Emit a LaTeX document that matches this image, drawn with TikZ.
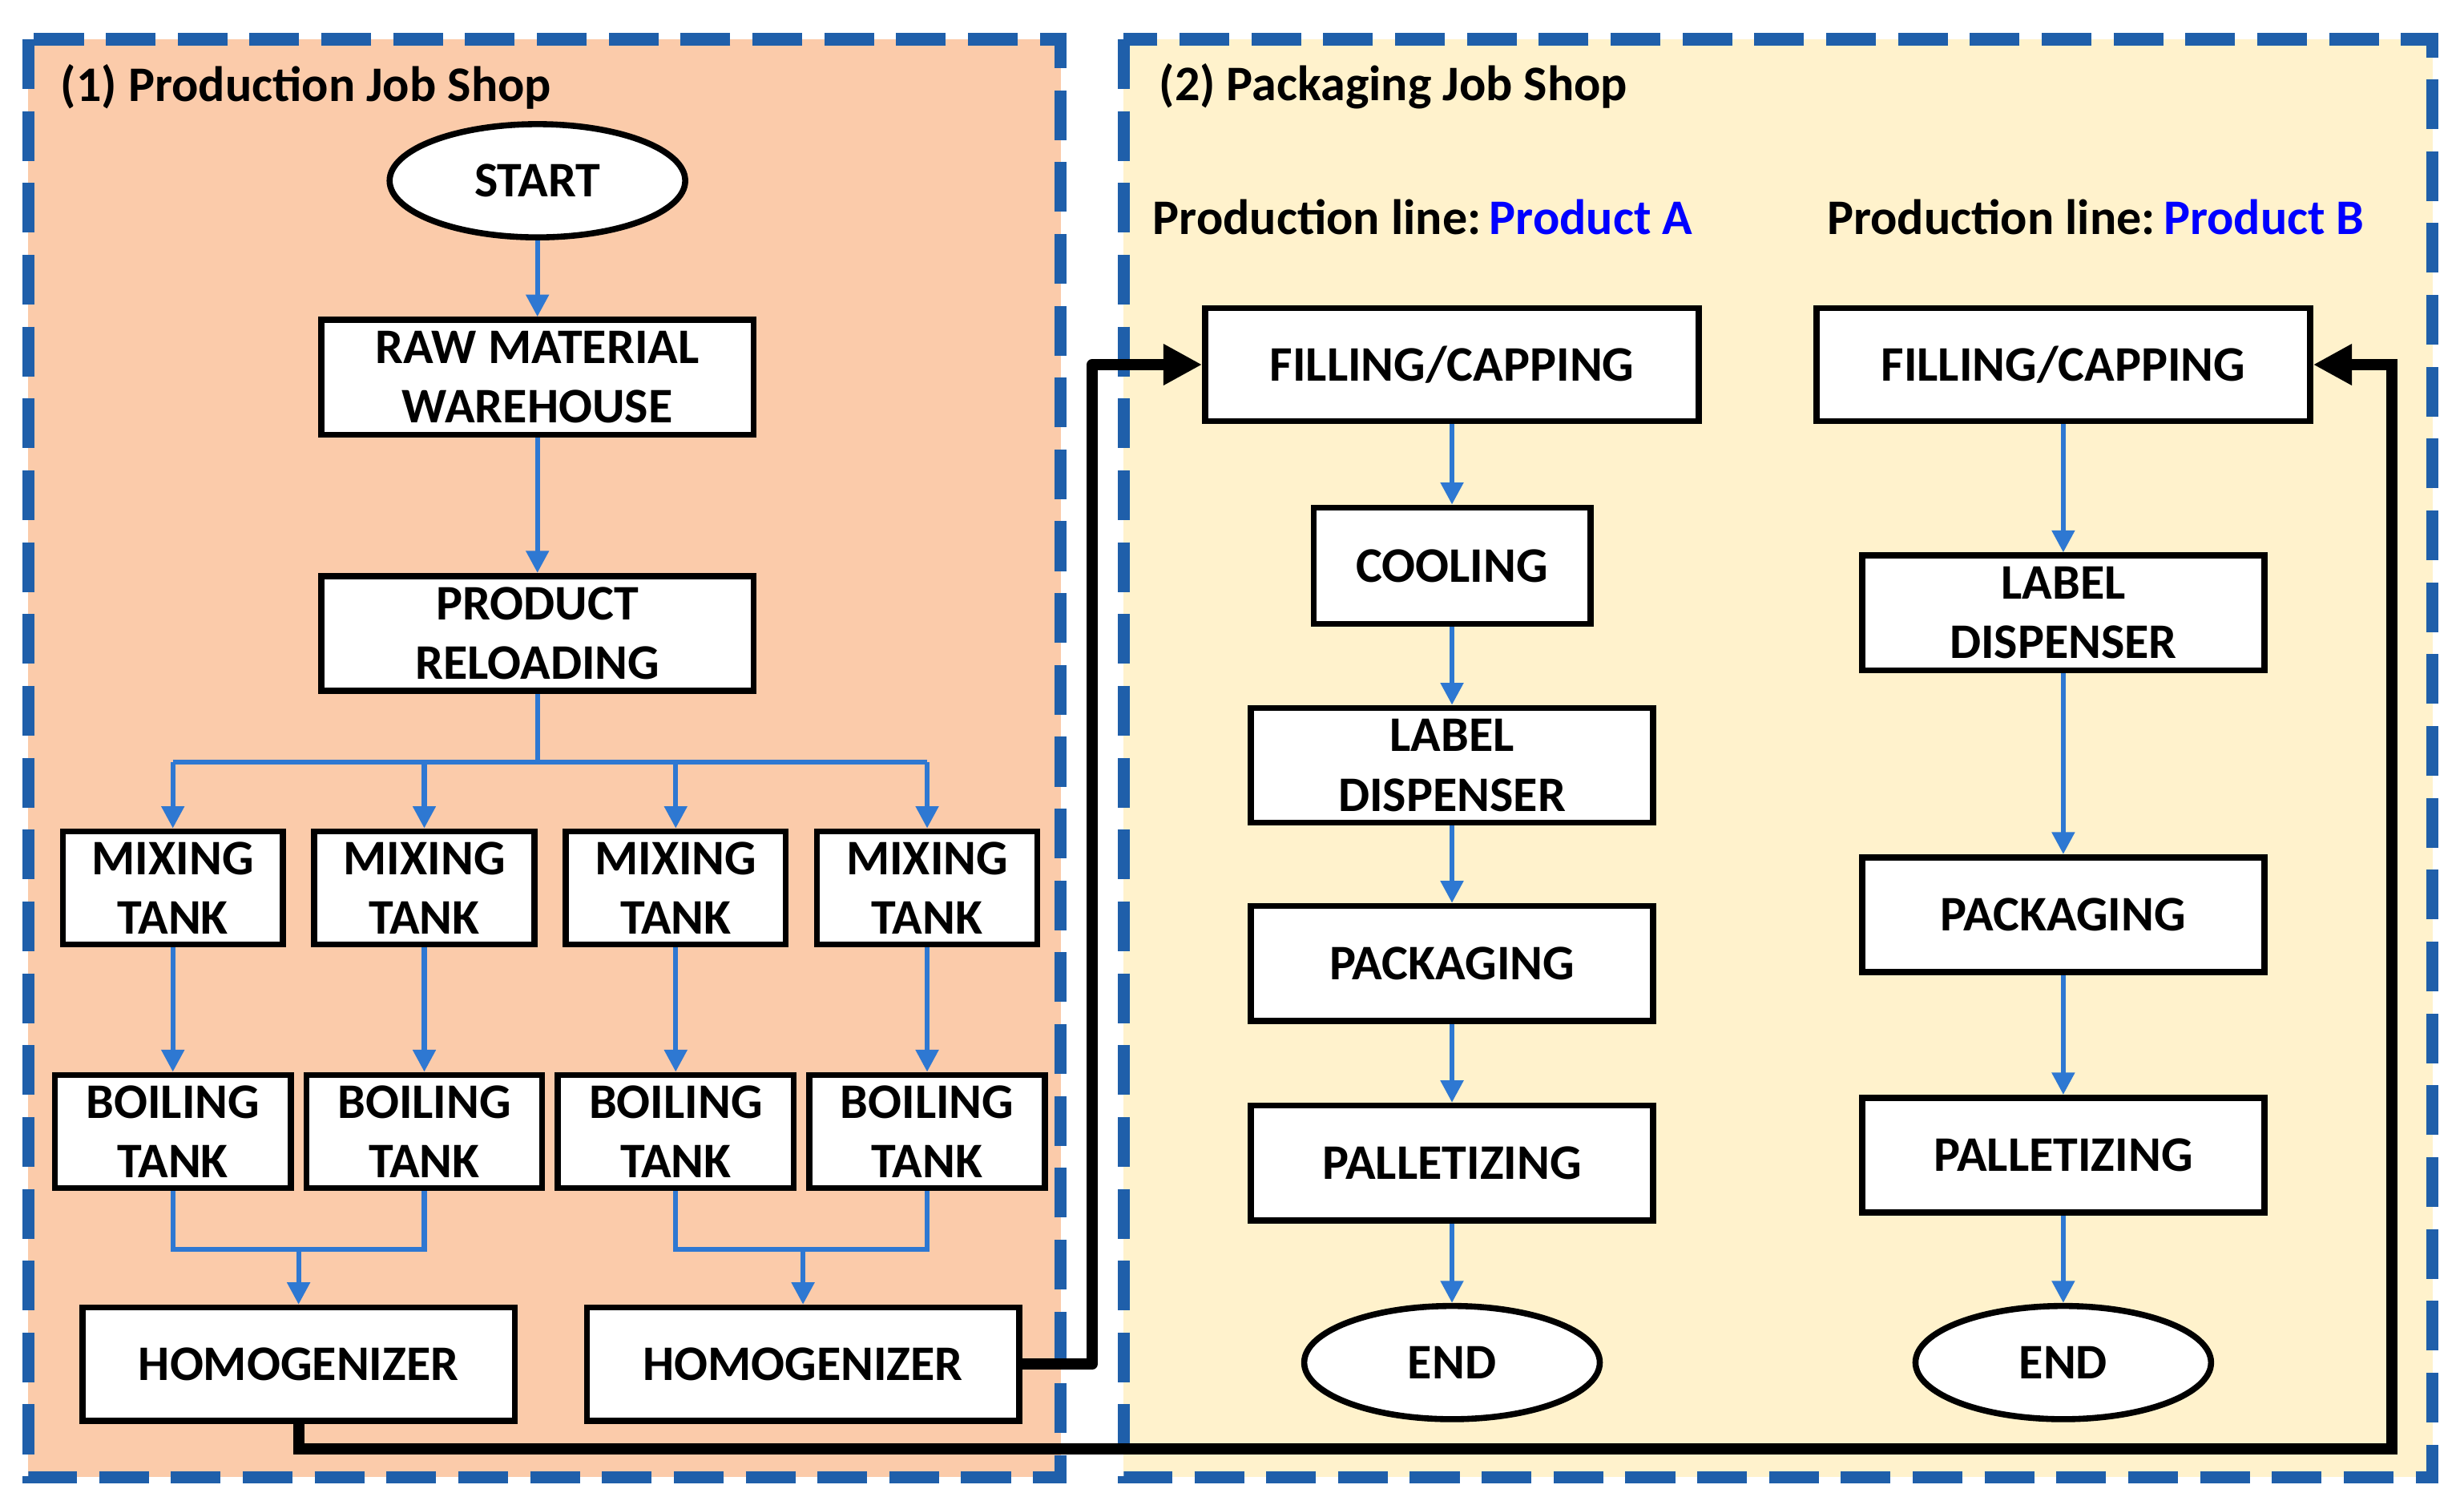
\documentclass[tikz,border=0pt]{standalone}
\usepackage{fontspec}
\setmainfont{Carlito}
\usetikzlibrary{shapes.geometric,arrows.meta}
\definecolor{peach}{HTML}{FBCBAA}
\definecolor{cream}{HTML}{FFF2CC}
\definecolor{dblue}{HTML}{1F5FAA}
\definecolor{ablue}{HTML}{2E78D2}
\begin{document}
\begin{tikzpicture}[x=0.01cm,y=-0.01cm,
  box/.style={draw=black,line width=1.1pt,fill=white,align=center,font=\fontsize{9}{10.8}\selectfont\bfseries,inner sep=0pt},
  ell/.style={ellipse,draw=black,line width=1.1pt,fill=white,font=\fontsize{9}{10.8}\selectfont\bfseries,minimum width=1.88cm,minimum height=0.72cm,inner sep=0pt},
  ba/.style={draw=ablue,line width=0.9pt,-{Triangle[length=4pt,width=4pt]}},
  bl/.style={draw=ablue,line width=0.9pt},
  ka/.style={draw=black,line width=2pt,-{Triangle[length=7pt,width=7pt]}},
  pan/.style={draw=dblue,line width=2.2pt,dash pattern=on 9pt off 4pt},
  ttl/.style={font=\fontsize{9}{10.8}\selectfont\bfseries,anchor=west,inner sep=0pt}]
\useasboundingbox (0,0) rectangle (1568,960);
\fill[peach] (18,25) rectangle (675,940);
\fill[cream] (715,25) rectangle (1548,940);
\draw[pan] (18,25) rectangle (675,940);
\draw[pan] (715,25) rectangle (1548,940);
\node[ttl] (t1) at (38,55) {(1) Production Job Shop};
\node[ttl] (t2) at (737,55) {(2) Packaging Job Shop};
\node[ttl] (pa) at (733,138) {Production line:\,\textcolor{blue}{Product A}};
\node[ttl] (pb) at (1162,138) {Production line:\,\textcolor{blue}{Product B}};

\node[ell] (start) at (342,115) {START};
\node[box,minimum width=2.75cm,minimum height=0.73cm] (raw) at (342,240) {RAW MATERIAL\\WAREHOUSE};
\node[box,minimum width=2.75cm,minimum height=0.73cm] (rel) at (342,403) {PRODUCT\\RELOADING};
\foreach \i/\x in {1/110,2/270,3/430,4/590}{
  \node[box,minimum width=1.4cm,minimum height=0.72cm] (m\i) at (\x,565) {MIXING\\TANK};
  \node[box,minimum width=1.5cm,minimum height=0.72cm] (b\i) at (\x,720) {BOILING\\TANK};
  \coordinate (j\i) at (\x,485);
  \draw[ba] (j\i) -- (m\i);
  \draw[ba] (m\i) -- (b\i);
}
\node[box,minimum width=2.75cm,minimum height=0.72cm] (h1) at (190,868) {HOMOGENIZER};
\node[box,minimum width=2.75cm,minimum height=0.72cm] (h2) at (511,868) {HOMOGENIZER};
\draw[ba] (start) -- (raw);
\draw[ba] (raw) -- (rel);
\draw[bl] (rel.south) -- (342,485);
\draw[bl] (j1) -- (j4);
\coordinate (k1) at (190,795);
\coordinate (k2) at (511,795);
\draw[bl] (b1.south) |- (k1) -| (b2.south);
\draw[bl] (b3.south) |- (k2) -| (b4.south);
\draw[ba] (k1) -- (h1);
\draw[ba] (k2) -- (h2);

\node[box,minimum width=3.14cm,minimum height=0.72cm] (fa) at (924,232) {FILLING/CAPPING};
\node[box,minimum width=1.76cm,minimum height=0.74cm] (ca) at (924,360) {COOLING};
\node[box,minimum width=2.56cm,minimum height=0.73cm] (la) at (924,487) {LABEL\\DISPENSER};
\node[box,minimum width=2.56cm,minimum height=0.73cm] (pka) at (924,613) {PACKAGING};
\node[box,minimum width=2.56cm,minimum height=0.73cm] (pla) at (924,740) {PALLETIZING};
\node[ell] (ea) at (924,867) {END};
\draw[ba] (fa) -- (ca);
\draw[ba] (ca) -- (la);
\draw[ba] (la) -- (pka);
\draw[ba] (pka) -- (pla);
\draw[ba] (pla) -- (ea);

\node[box,minimum width=3.14cm,minimum height=0.72cm] (fb) at (1313,232) {FILLING/CAPPING};
\node[box,minimum width=2.56cm,minimum height=0.73cm] (lb) at (1313,390) {LABEL\\DISPENSER};
\node[box,minimum width=2.56cm,minimum height=0.73cm] (pkb) at (1313,582) {PACKAGING};
\node[box,minimum width=2.56cm,minimum height=0.73cm] (plb) at (1313,735) {PALLETIZING};
\node[ell] (eb) at (1313,867) {END};
\draw[ba] (fb) -- (lb);
\draw[ba] (lb) -- (pkb);
\draw[ba] (pkb) -- (plb);
\draw[ba] (plb) -- (eb);

\coordinate (c1) at (695,868);
\coordinate (c2) at (695,232);
\draw[ka,line join=round] (h2.east) -- (c1) -- (c2) -- (fa.west);
\coordinate (d1) at (190,922);
\coordinate (d2) at (1522,922);
\coordinate (d3) at (1522,232);
\draw[ka] (h1.south) -- (d1) -- (d2) -- (d3) -- (fb.east);
\end{tikzpicture}
\end{document}
